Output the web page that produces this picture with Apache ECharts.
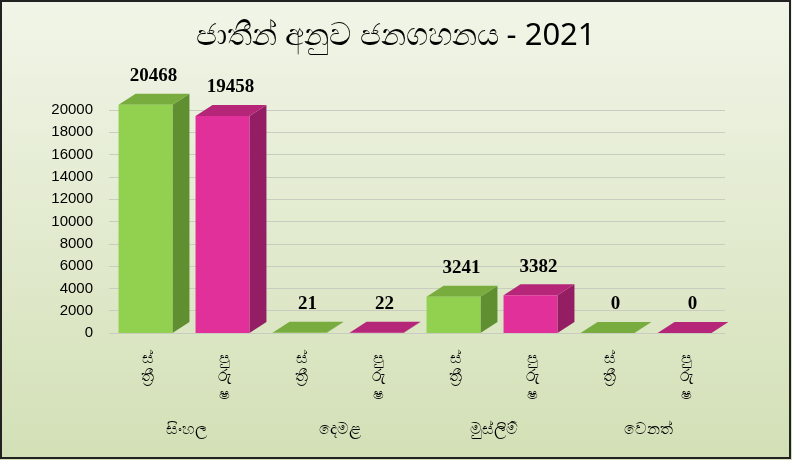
<!DOCTYPE html>
<html><head><meta charset="utf-8">
<script src="https://cdn.jsdelivr.net/npm/echarts@6/dist/echarts.min.js"></script>
<style>html,body{margin:0;padding:0;}#c{width:792px;height:460px;}</style></head>
<body><div id="c"></div>
<script>
const groups = ['සිංහල','දෙමළ','මුස්ලිම්','වෙනත්'];
const genders = ['ස්ත්‍රී','පුරුෂ'];
const values = [20468, 19458, 21, 22, 3241, 3382, 0, 0];
const yTicks = [0,2000,4000,6000,8000,10000,12000,14000,16000,18000,20000];

const cats = [];
groups.forEach(g => genders.forEach(s => cats.push(s)));
const faces = [
  {front:'#92d050', side:'#5f8f30', top:'#78ac3e'},
  {front:'#e2309b', side:'#931e63', top:'#b52679'}
];
const chart = echarts.init(document.getElementById('c'));
const serif = '"Noto Sans", "Liberation Serif", serif';
chart.setOption({
  backgroundColor: new echarts.graphic.LinearGradient(0,0,0,1,[{offset:0,color:'#f1f5e8'},{offset:1,color:'#d3e0b6'}]),
  title: {text:'ජාතීන් අනුව ජනගහනය - 2021', left:'center', top:16,
    textStyle:{fontFamily:serif, fontSize:31, fontWeight:'normal', color:'#000'}},
  graphic:[{type:'rect', shape:{x:1,y:1,width:789,height:457}, style:{fill:'none',stroke:'#222',lineWidth:2}}],
  grid:{left:109, right:67, top:110, bottom:127},
  xAxis:[
    {type:'category', data:cats, axisTick:{show:false}, axisLine:{show:false},
     axisLabel:{fontFamily:serif, fontSize:16, color:'#000', margin:16,
       formatter: v => v==='පුරුෂ' ? 'පු\nරු\nෂ' : 'ස්\nත්‍රී', lineHeight:18}},
    {type:'category', data:groups, position:'bottom', offset:80, axisTick:{show:false}, axisLine:{show:false},
     axisLabel:{fontFamily:serif, fontSize:16, color:'#000'}}
  ],
  yAxis:{type:'value', min:0, max:20000, interval:2000, axisLine:{show:false}, axisTick:{show:false},
    splitLine:{lineStyle:{color:'#c9ccc0'}},
    axisLabel:{fontFamily:'"Liberation Sans", Arial', fontSize:15, color:'#000', margin:16, formatter: v => String(v)}},
  series:[{
    type:'custom', xAxisIndex:0,
    data: values.map((v,i)=>[i,v]),
    renderItem:(params, api)=>{
      const i = api.value(0), v = api.value(1);
      const top = api.coord([i, v]), base = api.coord([i, 0]);
      const w = api.size([1,0])[0]*0.70;
      const x0 = top[0]-w/2 - 2, x1 = x0 + w, dx = 17, dy = -11;
      const y0 = base[1], y1 = top[1];
      const f = faces[i%2];
      return {type:'group', children:[
        {type:'polygon', shape:{points:[[x1,y1],[x1+dx,y1+dy],[x1+dx,y0+dy],[x1,y0]]}, style:{fill:f.side}},
        {type:'polygon', shape:{points:[[x0,y1],[x0+dx,y1+dy],[x1+dx,y1+dy],[x1,y1]]}, style:{fill:f.top}},
        {type:'rect', shape:{x:x0, y:y1, width:w, height:y0-y1}, style:{fill:f.front}},
        {type:'text', x:(x0+x1)/2+8, y:y1+dy-8, style:{text:String(v), fontFamily:'"Liberation Serif", serif',
          fontWeight:'bold', fontSize:19, fill:'#000', align:'center', verticalAlign:'bottom'}}
      ]};
    }
  }]
});
</script></body></html>
